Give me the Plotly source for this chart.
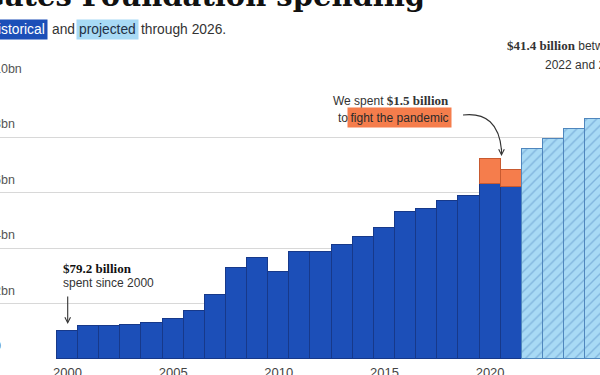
import plotly.graph_objects as go

# ---------------- data ----------------
hist_years = list(range(2000, 2022))
hist_values = [1.02, 1.19, 1.20, 1.24, 1.31, 1.45, 1.72, 2.30, 3.28, 3.63, 3.15,
               3.86, 3.88, 4.12, 4.40, 4.73, 5.30, 5.41, 5.70, 5.90, 6.32, 6.22]
pandemic_years = [2020, 2021]
pandemic_values = [0.90, 0.60]
proj_years = [2022, 2023, 2024, 2025, 2026]
proj_values = [7.58, 7.95, 8.29, 8.66, 8.92]
y_tick_vals = [0, 2, 4, 6, 8, 10]
y_tick_text = ["0", "2bn", "4bn", "6bn", "8bn", "10bn"]
x_tick_vals = [2000, 2005, 2010, 2015, 2020]
x_tick_text = ["2000", "2005", "2010", "2015", "2020"]

# ---------------- geometry helpers ----------------
W, H = 600, 375
M_T, M_B = 82, 16
PLOT_H = H - M_T - M_B
X0_PX, PX_PER_YEAR = 67.5, 21.13
Y_MAX = 10.0


def px_x(px):
    return px / W


def px_y(py):
    return (H - M_B - py) / PLOT_H


def dx(px):  # pixel -> data x
    return 2000 + (px - X0_PX) / PX_PER_YEAR


def dy(py):  # pixel -> data y
    return (H - M_B - py) / PLOT_H * Y_MAX


SANS = "Liberation Sans, Arial, sans-serif"
SERIF = "Liberation Serif, Times New Roman, serif"
BLUE = "#1c4fb8"
ORANGE = "#f57d4c"
LIGHT = "#a8daf5"
TXT = "#333333"

fig = go.Figure()
fig.add_trace(go.Bar(x=hist_years, y=hist_values, name="Historical",
                     marker=dict(color=BLUE, line=dict(color="#17398a", width=1))))
fig.add_trace(go.Bar(x=pandemic_years, y=pandemic_values, name="Pandemic",
                     marker=dict(color=ORANGE, line=dict(color="#c85a30", width=1))))
fig.add_trace(go.Bar(x=proj_years, y=proj_values, name="Projected",
                     marker=dict(color=LIGHT, line=dict(color="#4f86bd", width=1),
                                 pattern=dict(shape="/", bgcolor=LIGHT, fgcolor="#5a90c6",
                                              size=7, solidity=0.2))))

ann = []
# y tick labels (above gridlines, left aligned, partly off canvas)
for v, t in zip(y_tick_vals, y_tick_text):
    ann.append(dict(xref="paper", yref="y", x=px_x(-8), y=v, text=t, showarrow=False,
                    xanchor="left", yanchor="bottom", yshift=4,
                    font=dict(family=SANS, size=12.5, color="#555555")))

# title (cropped)
ann.append(dict(xref="paper", yref="paper", x=px_x(427), y=px_y(15), xanchor="right",
                yanchor="bottom", showarrow=False, text="<b>Gates Foundation spending</b>",
                font=dict(family="DejaVu Serif, serif", size=29, color="#111111")))

# subtitle pieces
SUB = 13.8
ann.append(dict(xref="paper", yref="paper", x=px_x(48), y=px_y(29.5), xanchor="right",
                yanchor="middle", showarrow=False, text="Historical", bgcolor=BLUE,
                borderpad=2, font=dict(family=SANS, size=SUB, color="white")))
ann.append(dict(xref="paper", yref="paper", x=px_x(50), y=px_y(29.5), xanchor="left",
                yanchor="middle", showarrow=False, text="and",
                font=dict(family=SANS, size=SUB, color=TXT)))
ann.append(dict(xref="paper", yref="paper", x=px_x(76), y=px_y(29.5), xanchor="left",
                yanchor="middle", showarrow=False, text="projected", bgcolor=LIGHT,
                borderpad=2, font=dict(family=SANS, size=SUB, color="#233044")))
ann.append(dict(xref="paper", yref="paper", x=px_x(139), y=px_y(29.5), xanchor="left",
                yanchor="middle", showarrow=False, text="through 2026.",
                font=dict(family=SANS, size=SUB, color=TXT)))

# projected total note (cropped at right)
ann.append(dict(xref="paper", yref="paper", x=px_x(505), y=px_y(45), xanchor="left",
                yanchor="middle", showarrow=False,
                text="<span style='font-family:Liberation Serif;font-size:13px'><b>$41.4 billion</b></span> between",
                font=dict(family=SANS, size=12, color=TXT)))
ann.append(dict(xref="paper", yref="paper", x=px_x(543), y=px_y(65), xanchor="left",
                yanchor="middle", showarrow=False, text="2022 and 2026",
                font=dict(family=SANS, size=12, color=TXT)))

# pandemic note
ann.append(dict(xref="paper", yref="paper", x=px_x(451), y=px_y(100), xanchor="right",
                yanchor="middle", showarrow=False,
                text="We spent <span style='font-family:Liberation Serif;font-size:13px'><b>$1.5 billion</b></span>",
                font=dict(family=SANS, size=12, color=TXT)))
ann.append(dict(xref="paper", yref="paper", x=px_x(452), y=px_y(117.5), xanchor="right",
                yanchor="middle", showarrow=False, text="fight the pandemic", bgcolor=ORANGE,
                borderpad=2.5, font=dict(family=SANS, size=12, color="#2a2a2a")))
ann.append(dict(xref="paper", yref="paper", x=px_x(350), y=px_y(117.5), xanchor="right",
                yanchor="middle", showarrow=False, text="to",
                font=dict(family=SANS, size=12, color=TXT)))
# arrowhead of the curved pandemic arrow
ann.append(dict(xref="x", yref="y", x=dx(501.5), y=dy(156), ax=0, ay=-9, axref="pixel",
                ayref="pixel", showarrow=True, arrowhead=5, arrowsize=1, arrowwidth=1.1,
                arrowcolor=TXT, text=""))

# since-2000 note
ann.append(dict(xref="paper", yref="paper", x=px_x(61), y=px_y(268), xanchor="left",
                yanchor="middle", showarrow=False, text="<b>$79.2 billion</b>",
                font=dict(family=SERIF, size=13, color="#111111")))
ann.append(dict(xref="paper", yref="paper", x=px_x(61), y=px_y(283), xanchor="left",
                yanchor="middle", showarrow=False, text="spent since 2000",
                font=dict(family=SANS, size=12, color=TXT)))
ann.append(dict(xref="x", yref="y", x=dx(67.7), y=dy(324), ax=0, ay=-29,
                showarrow=True, arrowhead=5, arrowsize=1, arrowwidth=1.1,
                arrowcolor=TXT, text=""))

# curved arrow path
p0 = (463, 115)
c = (498, 111)
p1 = (501.5, 150)
path = "M {},{} Q {},{} {},{}".format(dx(p0[0]), dy(p0[1]), dx(c[0]), dy(c[1]),
                                      dx(p1[0]), dy(p1[1]))
shapes = [dict(type="path", xref="x", yref="y", path=path,
               line=dict(color=TXT, width=1.1))]

fig.update_layout(
    width=W, height=H,
    margin=dict(l=0, r=0, t=M_T, b=M_B, autoexpand=False),
    paper_bgcolor="white", plot_bgcolor="white",
    barmode="stack", bargap=0,
    showlegend=False,
    annotations=ann,
    shapes=shapes,
    xaxis=dict(range=[dx(0), dx(W)], tickvals=x_tick_vals, ticktext=x_tick_text,
               showgrid=False, zeroline=False, showline=False, ticks="",
               ticklabelstandoff=4, automargin=False,
               tickfont=dict(family=SANS, size=13, color="#444444")),
    yaxis=dict(range=[0, Y_MAX], tickvals=y_tick_vals, showticklabels=False,
               showgrid=True, gridcolor="#d8d8d8", gridwidth=1, zeroline=False,
               showline=False, ticks="", automargin=False),
)

fig.write_html("out.html", config={"displayModeBar": False},
               post_script="document.body.style.margin='0';")
